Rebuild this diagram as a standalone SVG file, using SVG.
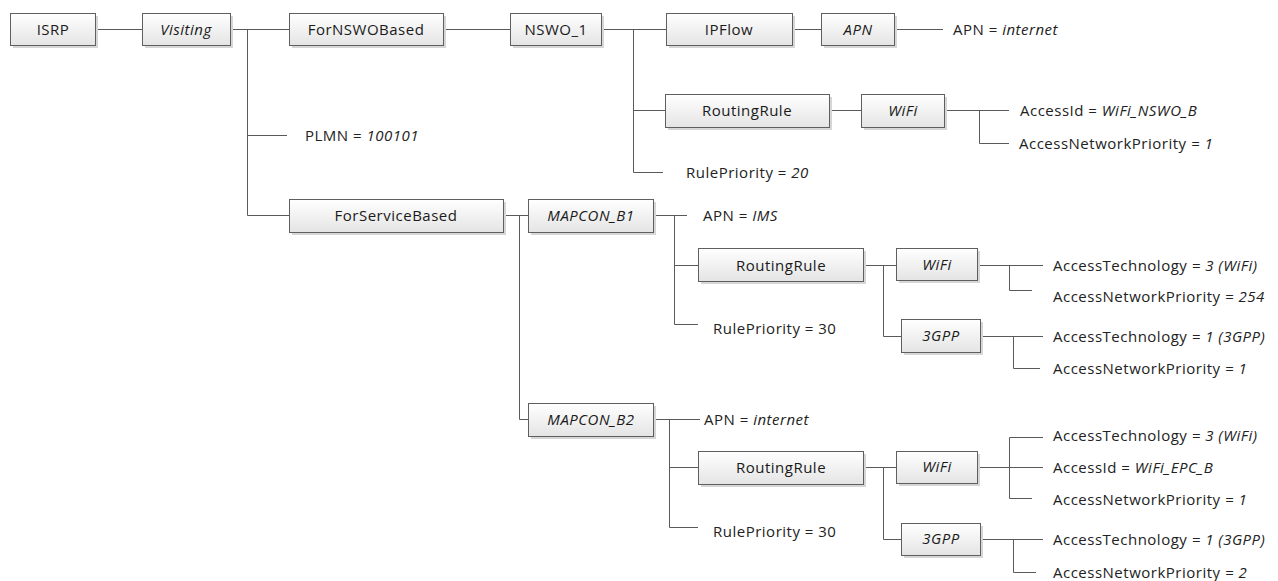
<svg xmlns="http://www.w3.org/2000/svg" width="1278" height="581" viewBox="0 0 1278 581">
<defs>
<linearGradient id="g" x1="0" y1="0" x2="0" y2="1">
<stop offset="0" stop-color="#ffffff"/>
<stop offset="1" stop-color="#e4e4e4"/>
</linearGradient>
<style>
.sh{fill:#d6d6d6}
.bx{fill:url(#g);stroke:#5f5f5f;stroke-width:1}
.bt{font-family:"Open Sans","Noto Sans",sans-serif;font-size:15px;letter-spacing:0.5px;fill:#1a1a1a;text-anchor:middle}
.it{font-style:italic}
.t{font-family:"Open Sans","Noto Sans",sans-serif;font-size:15px;letter-spacing:0.5px;fill:#222222}
#connectors path{fill:none;stroke:#5a5a5a;stroke-width:1}
</style>
</defs>
<rect width="1278" height="581" fill="#ffffff"/>
<g id="connectors">
<path d="M95 29.5H142"/>
<path d="M230 29.5H289M247.5 29.5V215.5H289M247.5 135.5H287"/>
<path d="M443 29.5H510"/>
<path d="M601 29.5H666M633.5 29.5V172.5H663M633.5 110.5H665"/>
<path d="M792 29.5H821M894 29.5H943"/>
<path d="M829 110.5H861M944 110.5H1009M979.5 110.5V143.5H1009"/>
<path d="M503 215.5H528M519.5 215.5V419.5H528"/>
<path d="M653 215.5H687M674.5 215.5V324.5H698M674.5 265.5H698"/>
<path d="M863 265.5H896M883.5 265.5V336.5H901"/>
<path d="M977 265.5H1043M1009.5 265.5V290.5H1032"/>
<path d="M980 336.5H1043M1013.5 336.5V368.5H1040"/>
<path d="M653 419.5H700M669.5 419.5V527.5H698M669.5 467.5H698"/>
<path d="M863 467.5H896M883.5 467.5V539.5H901"/>
<path d="M977 467.5H1043M1009.5 437.5V498.5M1009.5 437.5H1043M1009.5 498.5H1032"/>
<path d="M980 539.5H1043M1013.5 539.5V572.5H1036"/>
</g>
<g id="n-isrp"><rect class="sh" x="13" y="16" width="85" height="32"/><rect class="bx" x="10.5" y="13.5" width="85" height="32"/><text class="bt" x="53" y="35">ISRP</text></g>
<g id="n-visiting"><rect class="sh" x="145" y="16" width="88" height="32"/><rect class="bx" x="142.5" y="13.5" width="88" height="32"/><text class="bt it" x="186" y="35">Visiting</text></g>
<g id="n-fornswo"><rect class="sh" x="292" y="16" width="154" height="32"/><rect class="bx" x="289.5" y="13.5" width="154" height="32"/><text class="bt" x="366" y="35">ForNSWOBased</text></g>
<g id="n-nswo1"><rect class="sh" x="513" y="16" width="91" height="32"/><rect class="bx" x="510.5" y="13.5" width="91" height="32"/><text class="bt" x="556" y="35">NSWO_1</text></g>
<g id="n-ipflow"><rect class="sh" x="669" y="16" width="126" height="32"/><rect class="bx" x="666.5" y="13.5" width="126" height="32"/><text class="bt" x="729" y="35">IPFlow</text></g>
<g id="n-apn"><rect class="sh" x="824" y="16" width="73" height="32"/><rect class="bx" x="821.5" y="13.5" width="73" height="32"/><text class="bt it" x="858" y="35">APN</text></g>
<g id="n-rr1"><rect class="sh" x="668" y="97" width="164" height="33"/><rect class="bx" x="665.5" y="94.5" width="164" height="33"/><text class="bt" x="747" y="116">RoutingRule</text></g>
<g id="n-wifi1"><rect class="sh" x="864" y="97" width="83" height="33"/><rect class="bx" x="861.5" y="94.5" width="83" height="33"/><text class="bt it" x="903" y="116">WiFi</text></g>
<g id="n-forservice"><rect class="sh" x="292" y="202" width="214" height="33"/><rect class="bx" x="289.5" y="199.5" width="214" height="33"/><text class="bt" x="396" y="221">ForServiceBased</text></g>
<g id="n-mapconb1"><rect class="sh" x="531" y="202" width="125" height="33"/><rect class="bx" x="528.5" y="199.5" width="125" height="33"/><text class="bt it" x="591" y="221">MAPCON_B1</text></g>
<g id="n-rr2"><rect class="sh" x="701" y="251" width="165" height="33"/><rect class="bx" x="698.5" y="248.5" width="165" height="33"/><text class="bt" x="781" y="271">RoutingRule</text></g>
<g id="n-wifi2"><rect class="sh" x="899" y="251" width="81" height="32"/><rect class="bx" x="896.5" y="248.5" width="81" height="32"/><text class="bt it" x="937" y="270">WiFi</text></g>
<g id="n-3gpp2"><rect class="sh" x="904" y="322" width="79" height="33"/><rect class="bx" x="901.5" y="319.5" width="79" height="33"/><text class="bt it" x="941" y="341">3GPP</text></g>
<g id="n-mapconb2"><rect class="sh" x="531" y="406" width="125" height="33"/><rect class="bx" x="528.5" y="403.5" width="125" height="33"/><text class="bt it" x="591" y="425">MAPCON_B2</text></g>
<g id="n-rr3"><rect class="sh" x="701" y="454" width="165" height="33"/><rect class="bx" x="698.5" y="451.5" width="165" height="33"/><text class="bt" x="781" y="473">RoutingRule</text></g>
<g id="n-wifi3"><rect class="sh" x="899" y="454" width="81" height="32"/><rect class="bx" x="896.5" y="451.5" width="81" height="32"/><text class="bt it" x="937" y="472">WiFi</text></g>
<g id="n-3gpp3"><rect class="sh" x="904" y="526" width="79" height="32"/><rect class="bx" x="901.5" y="523.5" width="79" height="32"/><text class="bt it" x="941" y="544">3GPP</text></g>
<g id="labels">
<text class="t" x="953" y="35">APN = <tspan class="it">internet</tspan></text>
<text class="t" x="1020" y="116">AccessId = <tspan class="it">WiFi_NSWO_B</tspan></text>
<text class="t" x="1019" y="149">AccessNetworkPriority <tspan class="it">= 1</tspan></text>
<text class="t" x="686" y="178">RulePriority = <tspan class="it">20</tspan></text>
<text class="t" x="305" y="141">PLMN = <tspan class="it">100101</tspan></text>
<text class="t" x="703" y="221">APN = <tspan class="it">IMS</tspan></text>
<text class="t" x="1053" y="271">AccessTechnology <tspan class="it">= 3 (WiFi)</tspan></text>
<text class="t" x="1053" y="302">AccessNetworkPriority <tspan class="it">= 254</tspan></text>
<text class="t" x="713" y="334">RulePriority = 30</text>
<text class="t" x="1053" y="342">AccessTechnology <tspan class="it">= 1 (3GPP)</tspan></text>
<text class="t" x="1053" y="374">AccessNetworkPriority <tspan class="it">= 1</tspan></text>
<text class="t" x="704" y="425">APN = <tspan class="it">internet</tspan></text>
<text class="t" x="713" y="537">RulePriority = 30</text>
<text class="t" x="1053" y="441">AccessTechnology <tspan class="it">= 3 (WiFi)</tspan></text>
<text class="t" x="1053" y="473">AccessId = <tspan class="it">WiFi_EPC_B</tspan></text>
<text class="t" x="1053" y="505">AccessNetworkPriority <tspan class="it">= 1</tspan></text>
<text class="t" x="1053" y="545">AccessTechnology <tspan class="it">= 1 (3GPP)</tspan></text>
<text class="t" x="1053" y="578">AccessNetworkPriority <tspan class="it">= 2</tspan></text>
</g>
</svg>
